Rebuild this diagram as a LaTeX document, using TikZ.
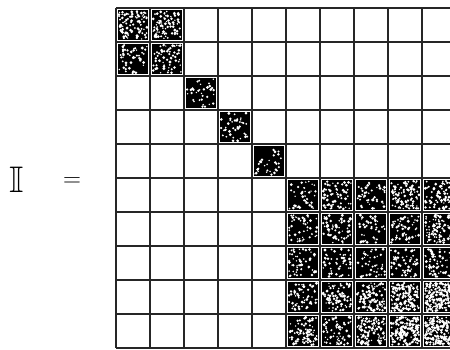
\documentclass[tikz,border=0pt]{standalone}
\usepackage{amssymb}
\newcommand\dcell[3]{%
  \fill[black] ({116+34*#1+2},{8+34*#2+2}) rectangle ({116+34*#1+32},{8+34*#2+32});
  \foreach \k in {1,...,#3}{%
    \pgfmathsetmacro\xx{116+34*#1+3+28*rnd}%
    \pgfmathsetmacro\yy{8+34*#2+3+28*rnd}%
    \pgfmathsetmacro\rr{0.7+0.9*rnd}%
    \fill[white] (\xx,\yy) circle (\rr);
  }}
\tikzset{gridline/.style={line width=1.5pt, black!85}}
\begin{document}
\begin{tikzpicture}[x=1pt,y=-1pt]
\useasboundingbox (0,0) rectangle (450,350);
\pgfmathsetseed{7}
\begin{scope}
\clip (0,0) rectangle (450,350);
% top-left block
\dcell{0}{0}{90}\dcell{1}{0}{80}
\dcell{0}{1}{50}\dcell{1}{1}{60}
% diagonal
\dcell{2}{2}{35}\dcell{3}{3}{40}\dcell{4}{4}{30}
% lower-right block
\dcell{5}{5}{40}\dcell{6}{5}{65}\dcell{7}{5}{45}\dcell{8}{5}{95}\dcell{9}{5}{75}
\dcell{5}{6}{45}\dcell{6}{6}{55}\dcell{7}{6}{40}\dcell{8}{6}{55}\dcell{9}{6}{95}
\dcell{5}{7}{55}\dcell{6}{7}{50}\dcell{7}{7}{40}\dcell{8}{7}{55}\dcell{9}{7}{60}
\dcell{5}{8}{60}\dcell{6}{8}{85}\dcell{7}{8}{105}\dcell{8}{8}{140}\dcell{9}{8}{190}
\dcell{5}{9}{85}\dcell{6}{9}{65}\dcell{7}{9}{105}\dcell{8}{9}{160}\dcell{9}{9}{180}
% grid
\foreach \i in {0,...,10}{
  \draw[gridline] ({116+34*\i},8) -- ({116+34*\i},348);
  \draw[gridline] (116,{8+34*\i}) -- (456,{8+34*\i});
}
\end{scope}
\node (I) at (17,180) {\fontsize{37}{44}\selectfont$\mathbb{I}$};
\node (eq) at (72,182) {\fontsize{45}{52}\selectfont$=$};
\end{tikzpicture}
\end{document}
